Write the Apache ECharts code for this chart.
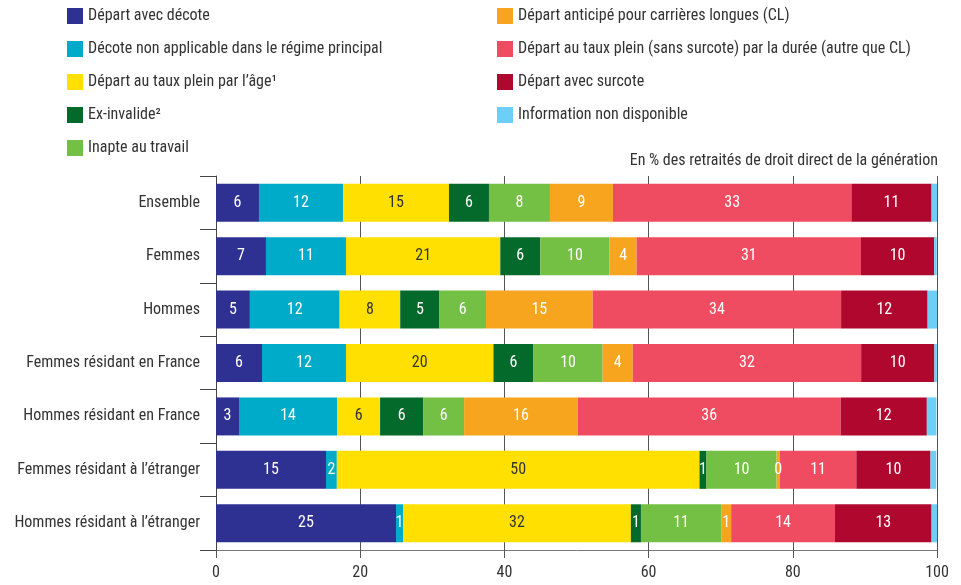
<!DOCTYPE html>
<html>
<head>
<meta charset="utf-8">
<script src="https://cdn.jsdelivr.net/npm/echarts@6/dist/echarts.min.js"></script>
<style>html,body{margin:0;padding:0;background:#fff}#c{width:961px;height:585px}</style>
</head>
<body>
<div id="c"></div>
<script>
const categories = [
  "Ensemble",
  "Femmes",
  "Hommes",
  "Femmes résidant en France",
  "Hommes résidant en France",
  "Femmes résidant à l’étranger",
  "Hommes résidant à l’étranger"
];
const seriesNames = [
  "Départ avec décote",
  "Décote non applicable dans le régime principal",
  "Départ au taux plein par l’âge¹",
  "Ex-invalide²",
  "Inapte au travail",
  "Départ anticipé pour carrières longues (CL)",
  "Départ au taux plein (sans surcote) par la durée (autre que CL)",
  "Départ avec surcote",
  "Information non disponible"
];
const decote       = [5.96, 6.93, 4.7, 6.38, 3.19, 15.26, 24.97];
const decoteNA     = [11.65, 11.1, 12.45, 11.65, 13.6, 1.5, 0.97];
const ageTauxPlein = [14.7, 21.4, 8.4, 20.45, 5.97, 50.3, 31.6];
const exInvalide   = [5.55, 5.55, 5.45, 5.55, 5.96, 0.97, 1.4];
const inapte       = [8.46, 9.6, 6.45, 9.6, 5.69, 9.73, 11.12];
const carrLongues  = [8.74, 3.76, 14.8, 4.17, 15.78, 0.45, 1.39];
const dureeTP      = [33.07, 31.12, 34.45, 31.68, 36.45, 10.6, 14.4];
const surcote      = [11.12, 10.15, 12.0, 10.15, 11.95, 10.29, 13.4];
const infoND       = [0.77, 0.35, 1.3, 0.35, 1.33, 0.8, 0.77];
const xTicks = [0, 20, 40, 60, 80, 100];

const values = [decote, decoteNA, ageTauxPlein, exInvalide, inapte, carrLongues, dureeTP, surcote, infoND];
const colors = ["#2E3192", "#00ABC9", "#FFE000", "#046A2C", "#74C044", "#F7A51E", "#EF4C61", "#B0072F", "#6DCFF6"];
const labelColors = ["#fff", "#fff", "#333", "#fff", "#fff", "#fff", "#fff", "#fff", "#fff"];
const FONT = '"Liberation Sans Narrow", "Roboto Condensed", "DejaVu Sans Condensed", sans-serif';

const chart = echarts.init(document.getElementById('c'), null, {renderer: 'canvas'});

const series = seriesNames.map((name, i) => ({
  name: name,
  type: 'bar',
  stack: 'total',
  barWidth: 38,
  data: values[i],
  itemStyle: {color: colors[i]},
  label: {
    show: i < 8,
    position: 'inside',
    color: labelColors[i],
    fontFamily: FONT,
    fontSize: 16,
    formatter: p => String(Math.round(p.value))
  },
  emphasis: {disabled: true}
}));

const legendBase = {
  orient: 'vertical',
  icon: 'rect',
  itemWidth: 16,
  itemHeight: 16,
  itemGap: 17,
  top: 3,
  selectedMode: false,
  textStyle: {fontSize: 16, color: '#333', fontFamily: FONT}
};

chart.setOption({
  animation: false,
  color: colors,
  title: {
    text: 'En % des retraités de droit direct de la génération',
    right: 23,
    top: 153,
    padding: 0,
    textStyle: {fontSize: 16, fontWeight: 'normal', color: '#333', fontFamily: FONT}
  },
  legend: [
    Object.assign({}, legendBase, {left: 62, data: seriesNames.slice(0, 5)}),
    Object.assign({}, legendBase, {left: 492, data: seriesNames.slice(5)})
  ],
  grid: {left: 216, right: 24, top: 176, bottom: 35, containLabel: false},
  xAxis: {
    type: 'value',
    min: 0,
    max: 100,
    interval: 20,
    axisLine: {show: true, lineStyle: {color: '#777'}},
    axisTick: {show: true, length: 8, lineStyle: {color: '#555'}},
    axisLabel: {
      fontSize: 16, color: '#333', fontFamily: FONT, margin: 15,
      formatter: v => xTicks.includes(v) ? String(v) : ''
    },
    splitLine: {show: true, lineStyle: {color: '#555', width: 1}}
  },
  yAxis: {
    type: 'category',
    inverse: true,
    data: categories,
    axisLine: {show: true, lineStyle: {color: '#444'}},
    axisTick: {show: true, length: 16, lineStyle: {color: '#444'}},
    axisLabel: {fontSize: 16, color: '#333', fontFamily: FONT, margin: 16}
  },
  series: series
});
</script>
</body>
</html>
